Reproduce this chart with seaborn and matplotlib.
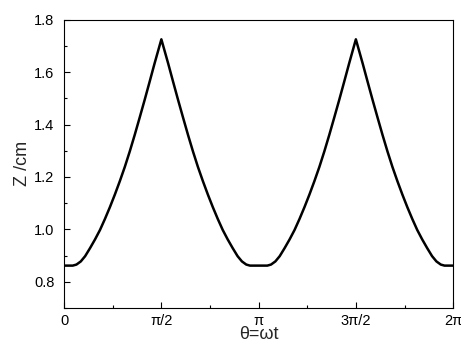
import numpy as np
import pandas as pd
import seaborn as sns
import matplotlib.pyplot as plt
from matplotlib.ticker import MultipleLocator

# Height Z against phase angle
theta = [0.000, 0.140, 0.200, 0.270, 0.340, 0.420, 0.500, 0.580, 0.660, 0.740,
         0.820, 0.900, 0.980, 1.060, 1.140, 1.220, 1.300, 1.380, 1.460, 1.571,
         1.682, 1.762, 1.842, 1.922, 2.002, 2.082, 2.162, 2.242, 2.322, 2.402,
         2.482, 2.562, 2.642, 2.722, 2.802, 2.872, 2.942, 3.002, 3.142,
         3.282, 3.342, 3.412, 3.482, 3.562, 3.642, 3.722, 3.802, 3.882, 3.962,
         4.042, 4.122, 4.202, 4.282, 4.362, 4.442, 4.522, 4.602, 4.712,
         4.823, 4.903, 4.983, 5.063, 5.143, 5.223, 5.303, 5.383, 5.463, 5.543,
         5.623, 5.703, 5.783, 5.863, 5.943, 6.013, 6.083, 6.143, 6.283]
z = [0.862, 0.862, 0.866, 0.878, 0.898, 0.929, 0.962, 0.998, 1.040, 1.085,
     1.133, 1.184, 1.238, 1.297, 1.360, 1.426, 1.493, 1.562, 1.632, 1.725,
     1.632, 1.562, 1.493, 1.426, 1.360, 1.297, 1.238, 1.184, 1.133, 1.085,
     1.040, 0.998, 0.962, 0.929, 0.898, 0.878, 0.866, 0.862, 0.862,
     0.862, 0.866, 0.878, 0.898, 0.929, 0.962, 0.998, 1.040, 1.085, 1.133,
     1.184, 1.238, 1.297, 1.360, 1.426, 1.493, 1.562, 1.632, 1.725,
     1.632, 1.562, 1.493, 1.426, 1.360, 1.297, 1.238, 1.184, 1.133, 1.085,
     1.040, 0.998, 0.962, 0.929, 0.898, 0.878, 0.866, 0.862, 0.862]

x_ticks = [0, np.pi / 2, np.pi, 3 * np.pi / 2, 2 * np.pi]
x_tick_labels = ['0', 'π/2', 'π', '3π/2', '2π']

df = pd.DataFrame({'theta': theta, 'z': z})

sns.set_theme(style='ticks')
plt.rcParams['font.family'] = ['Liberation Sans', 'DejaVu Sans']

fig = plt.figure(figsize=(4.61, 3.45), dpi=100)
ax = fig.add_axes([0.139, 0.107, 0.844, 0.836])

sns.lineplot(data=df, x='theta', y='z', ax=ax, color='black', linewidth=1.8,
             estimator=None)

ax.set_xlim(0, 2 * np.pi)
ax.set_ylim(0.7, 1.8)
ax.set_xticks(x_ticks)
ax.set_xticklabels(x_tick_labels)
ax.xaxis.set_minor_locator(MultipleLocator(np.pi / 4))
ax.yaxis.set_major_locator(MultipleLocator(0.2))
ax.yaxis.set_minor_locator(MultipleLocator(0.1))
ax.yaxis.set_major_formatter(plt.FormatStrFormatter('%.1f'))

ax.tick_params(which='both', direction='in', top=False, right=False,
               labelsize=10.5, colors='black')
ax.tick_params(which='major', length=4.5, width=0.8)
ax.tick_params(which='minor', length=2.3, width=0.8)
ax.tick_params(axis='y', which='major', pad=7)
ax.tick_params(axis='x', which='major', pad=4)

for side in ax.spines.values():
    side.set_visible(True)
    side.set_color('black')
    side.set_linewidth(0.8)

ax.set_xlabel('θ=ωt', fontsize=13, labelpad=-1)
ax.set_ylabel('Z /cm', fontsize=13, labelpad=2)

fig.savefig('out.png', dpi=100)
